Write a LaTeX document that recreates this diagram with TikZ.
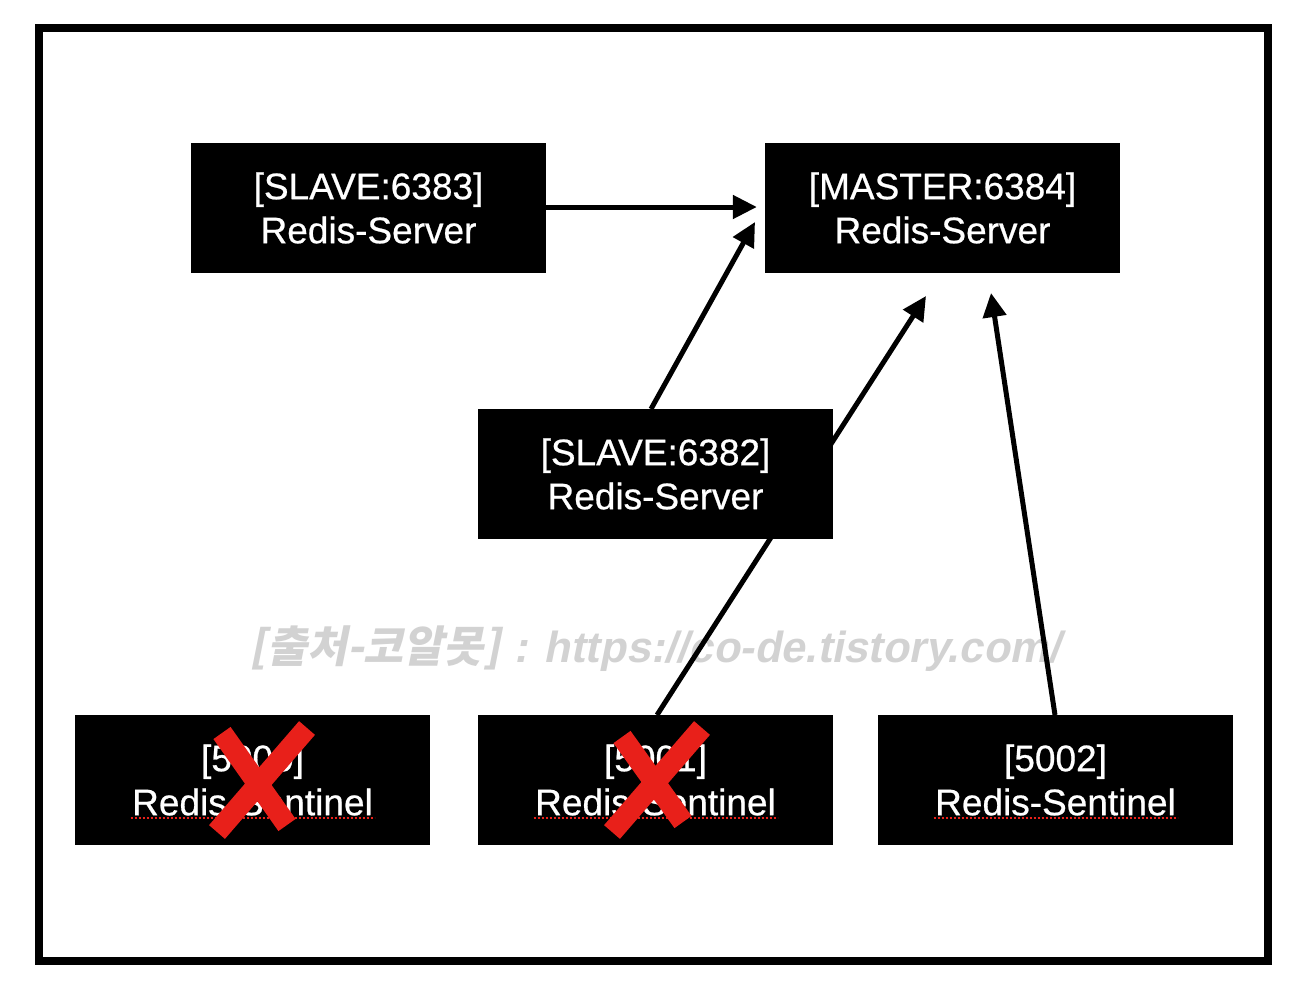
\documentclass[tikz,border=0pt]{standalone}
\usepackage{fontspec}
\setmainfont[FakeBold=0.6]{Liberation Sans}
\newfontfamily\wmk[FakeSlant=0.2]{Noto Sans CJK KR}
\newfontfamily\wml[FakeSlant=0.2]{Liberation Sans}
\usetikzlibrary{arrows.meta,calc}
\definecolor{xred}{RGB}{232,32,26}
\definecolor{wmgray}{RGB}{210,210,210}
\tikzset{
  srv/.style={fill=black,text=white,minimum width=355pt,minimum height=130pt,inner sep=0pt,align=center,font=\fontsize{37}{44}\selectfont\addfontfeature{FakeBold=0.6}},
  conn/.style={line width=5pt,draw=black},
  arr/.style={conn,-{Triangle[length=24pt,width=23pt]}},
  cross/.style={line width=21pt,draw=xred},
  squiggle/.style={draw=xred,line width=1.6pt,dash pattern=on 2pt off 2pt}
}
\begin{document}
\begin{tikzpicture}[x=1pt,y=-1pt]
\useasboundingbox (0,0) rectangle (1306,996);
\fill[white] (0,0) rectangle (1306,996);
\draw[line width=8pt] (39,28) rectangle (1268,961);
% watermark
\node[text=wmgray,inner sep=0pt] (wm) at (655,649) {\fontsize{43.5}{48}\selectfont\bfseries{\wmk [출처-코알못]}{\wml{} : https://co-de.tistory.com/}};
% free ends
\coordinate (t2) at (755,222);
\coordinate (t3) at (926,296);
\coordinate (t5) at (991,293);
\coordinate (f2) at (651,409);
\coordinate (f4) at (657,715);
\coordinate (f5) at (1055,715);
% connectors behind boxes
\draw[arr] (f2) -- (t2);
\draw[arr] (f4) -- (t3);
\draw[arr] (f5) -- (t5);
% boxes
\node[srv] (s83) at (368.5,208) {[SLAVE:6383]\\Redis-Server};
\node[srv] (m84) at (942.5,208) {[MASTER:6384]\\Redis-Server};
\node[srv] (s82) at (655.5,474) {[SLAVE:6382]\\Redis-Server};
\node[srv] (n0) at (252.5,780) {[5000]\\Redis-Sentinel};
\node[srv] (n1) at (655.5,780) {[5001]\\Redis-Sentinel};
\node[srv] (n2) at (1055.5,780) {[5002]\\Redis-Sentinel};
\draw[arr,shorten >=8pt] ([yshift=1pt]s83.east) -- ([yshift=1pt]m84.west);
% spell-check underlines
\foreach \n in {n0,n1,n2}{
  \draw[squiggle] ($(\n.center)+(-122,38)$) -- ($(\n.center)+(122,38)$);
}
% red crosses
\draw[cross] ($(n0.center)+(-30.5,-47)$) -- ($(n0.center)+(34.5,45)$);
\draw[cross] ($(n0.center)+(54.5,-52)$) -- ($(n0.center)+(-35.5,52)$);
\draw[cross] ($(n1.center)+(-33.5,-43)$) -- ($(n1.center)+(27.5,42)$);
\draw[cross] ($(n1.center)+(46.5,-52)$) -- ($(n1.center)+(-43.5,52)$);
\end{tikzpicture}
\end{document}
